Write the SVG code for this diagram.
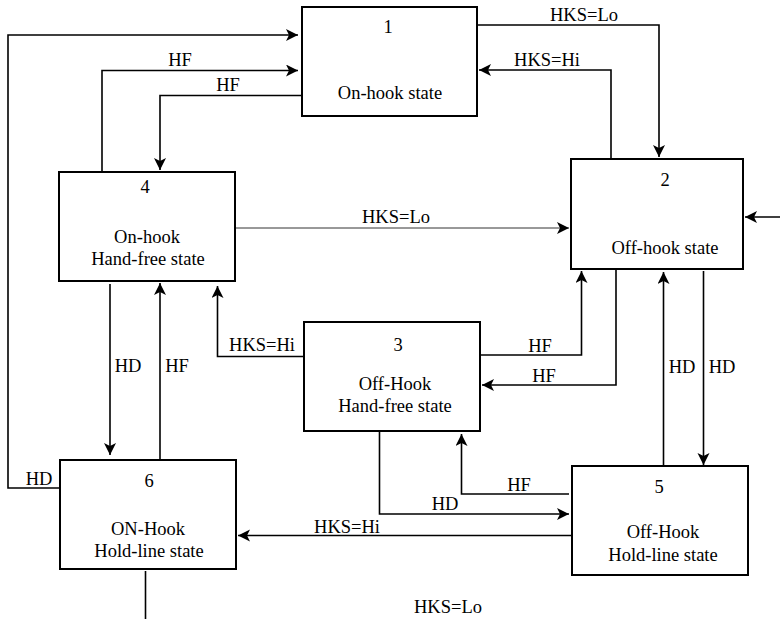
<svg xmlns="http://www.w3.org/2000/svg" width="780" height="619" viewBox="0 0 780 619">
<style>
text{font-family:"Liberation Serif","Times New Roman",serif;font-size:18.5px;fill:#000;text-anchor:middle}
.box{fill:#fff;stroke:#000;stroke-width:2}
.c{fill:none;stroke:#000;stroke-width:1.6}
.thin{fill:none;stroke:#333;stroke-width:1}
</style>
<defs>
<marker id="ah" markerUnits="userSpaceOnUse" markerWidth="14" markerHeight="14" refX="12" refY="6" orient="auto">
<path d="M0,0 L12,6 L0,12 L3,6 Z" fill="#000"/>
</marker>
</defs>
<rect width="780" height="619" fill="#fff"/>
<g id="connectors">
<path class="c" d="M60,488 H8 V35 H298" marker-end="url(#ah)"/>
<text x="39" y="485">HD</text>
<path class="c" d="M102,172 V70.5 H298" marker-end="url(#ah)"/>
<text x="180" y="66">HF</text>
<path class="c" d="M302,95.5 H160 V170" marker-end="url(#ah)"/>
<text x="228" y="91">HF</text>
<path class="c" d="M477,25 H659 V157" marker-end="url(#ah)"/>
<text x="584" y="21">HKS=Lo</text>
<path class="c" d="M611,159 V70 H479" marker-end="url(#ah)"/>
<text x="547" y="66">HKS=Hi</text>
<path class="c" d="M780,217 H745" marker-end="url(#ah)"/>
<path class="thin" d="M235,228 H569" marker-end="url(#ah)"/>
<text x="396" y="223">HKS=Lo</text>
<path class="c" d="M110,284 V455" marker-end="url(#ah)"/>
<text x="128" y="372">HD</text>
<path class="c" d="M160,460 V283" marker-end="url(#ah)"/>
<text x="177" y="372">HF</text>
<path class="c" d="M304,356.5 H217.5 V286" marker-end="url(#ah)"/>
<text x="262" y="351">HKS=Hi</text>
<path class="c" d="M480,355 H581.5 V271" marker-end="url(#ah)"/>
<text x="540" y="352">HF</text>
<path class="c" d="M616,269 V385 H482" marker-end="url(#ah)"/>
<text x="544" y="382">HF</text>
<path class="c" d="M663.5,466 V272" marker-end="url(#ah)"/>
<text x="682" y="373">HD</text>
<path class="c" d="M703.5,271 V465" marker-end="url(#ah)"/>
<text x="722" y="373">HD</text>
<path class="c" d="M379.5,431 V514 H569" marker-end="url(#ah)"/>
<text x="445" y="510">HD</text>
<path class="c" d="M569,494 H461.5 V434" marker-end="url(#ah)"/>
<text x="519" y="491">HF</text>
<path class="c" d="M572,535.5 H238" marker-end="url(#ah)"/>
<text x="347" y="533">HKS=Hi</text>
<path class="c" d="M145.5,571 V619"/>
<text x="448" y="613">HKS=Lo</text>
</g>
<g id="node1">
<rect class="box" x="302" y="7" width="175" height="109"/>
<text x="388" y="33">1</text>
<text x="390" y="99">On-hook state</text>
</g>
<g id="node2">
<rect class="box" x="571" y="159" width="172" height="110"/>
<text x="665" y="186">2</text>
<text x="665" y="254">Off-hook state</text>
</g>
<g id="node3">
<rect class="box" x="304" y="322" width="176" height="109"/>
<text x="398" y="351">3</text>
<text x="395" y="390">Off-Hook</text>
<text x="395" y="412">Hand-free state</text>
</g>
<g id="node4">
<rect class="box" x="59" y="172" width="176" height="109"/>
<text x="145" y="193">4</text>
<text x="147" y="243">On-hook</text>
<text x="148" y="265">Hand-free state</text>
</g>
<g id="node5">
<rect class="box" x="572" y="466" width="176" height="109"/>
<text x="659" y="493">5</text>
<text x="663" y="538">Off-Hook</text>
<text x="663" y="561">Hold-line state</text>
</g>
<g id="node6">
<rect class="box" x="60" y="460" width="176" height="109"/>
<text x="149" y="487">6</text>
<text x="148" y="535">ON-Hook</text>
<text x="149" y="557">Hold-line state</text>
</g>
</svg>
